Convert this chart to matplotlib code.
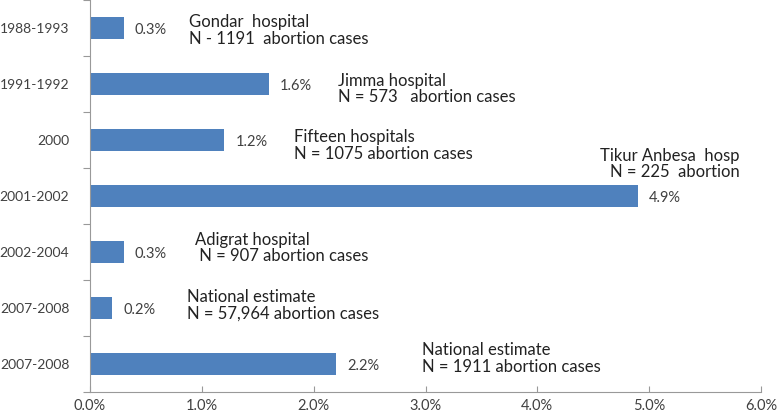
import matplotlib
matplotlib.use("Agg")
import matplotlib.pyplot as plt
import numpy as np

periods = ["1988-1993", "1991-1992", "2000", "2001-2002", "2002-2004", "2007-2008", "2007-2008"]
values = [0.3, 1.6, 1.2, 4.9, 0.3, 0.2, 2.2]
notes = ["Gondar  hospital\nN - 1191  abortion cases",
         "Jimma hospital\nN = 573   abortion cases",
         "Fifteen hospitals\nN = 1075 abortion cases",
         "Tikur Anbesa  hosp\nN = 225  abortion",
         "Adigrat hospital\n N = 907 abortion cases",
         "National estimate\nN = 57,964 abortion cases",
         "National estimate\nN = 1911 abortion cases"]
# where each note sits (x in %, y offset from the bar)
note_x = [0.885, 2.22, 1.82, 5.81, 0.94, 0.87, 2.97]
note_dy = [0.05, 0.09, 0.1, -0.57, -0.07, -0.05, -0.1]
note_ha = ["left", "left", "left", "right", "left", "left", "left"]

plt.rcParams['font.family'] = ['Lato', 'DejaVu Sans']
grey = "#404040"

fig = plt.figure(figsize=(7.78, 4.13), dpi=100)
ax = fig.add_axes([0.1157, 0.0508, 0.8625, 0.9492])

y = np.arange(len(values))
ax.barh(y, values, height=0.4, color="#4F81BD")

for i, v in enumerate(values):
    ax.text(v + 0.1, y[i] + 0.03, "%.1f%%" % v, va="center", ha="left",
            fontsize=10.5, color=grey)
    ax.text(note_x[i], y[i] + note_dy[i], notes[i], va="center", ha=note_ha[i],
            multialignment=note_ha[i], fontsize=12, color="#222222", linespacing=1.05)

ax.set_ylim(len(values) - 0.5, -0.5)
ax.set_xlim(0, 6)
ax.set_xticks(np.arange(0, 6.01, 1.0))
ax.set_xticklabels(["%.1f%%" % t for t in np.arange(0, 6.01, 1.0)])
ax.set_yticks(np.arange(-0.5, len(values), 1.0))
ax.set_yticklabels([])
ax.set_yticks(y, minor=True)
ax.set_yticklabels(periods, minor=True)

ax.tick_params(axis="y", which="major", length=5, color="#999999")
ax.tick_params(axis="y", which="minor", length=0, pad=15, labelsize=10, labelcolor=grey)
ax.tick_params(axis="x", direction="in", length=4, color="#999999", labelsize=10.5,
               labelcolor=grey, pad=5)

for s in ["top", "right"]:
    ax.spines[s].set_visible(False)
for s in ["left", "bottom"]:
    ax.spines[s].set_color("#999999")

fig.savefig("out.png", dpi=100)
